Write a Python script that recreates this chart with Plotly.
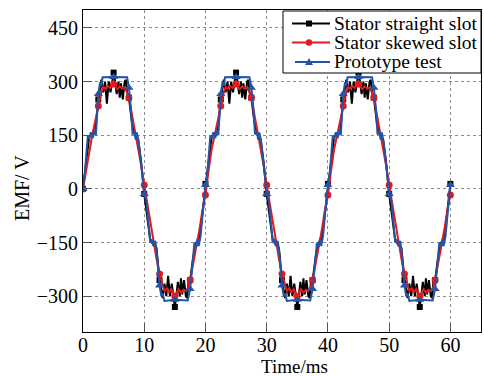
import plotly.graph_objects as go

# ---- data (one 20 ms period; the picture repeats it 3 times) ----
period_ms = 20
n_periods = 3

# Stator straight slot (black, squares)
straight_t = [0.5, 1.0, 1.5, 2.0, 2.5, 2.8, 3.0, 3.3, 3.6, 3.9, 4.2, 4.5, 4.8, 5.0,
              5.2, 5.5, 5.8, 6.0, 6.2, 6.5, 6.8, 7.0, 7.2, 7.5, 8.0, 8.5, 9.0, 9.5, 10.0,
              10.5, 11.0, 11.5, 12.0, 12.5, 12.8, 13.0, 13.3, 13.6, 13.9, 14.2, 14.5, 14.8, 15.0,
              15.2, 15.5, 15.8, 16.0, 16.2, 16.5, 16.8, 17.0, 17.2, 17.5, 18.0, 18.5, 19.0, 19.5, 20.0]
straight_v = [75, 145, 155, 160, 250, 290, 305, 270, 300, 238, 300, 270, 310, 325,
              305, 265, 300, 255, 295, 250, 300, 305, 270, 255, 185, 150, 140, 75, -14,
              -80, -145, -155, -165, -255, -290, -305, -265, -300, -243, -300, -265, -310, -330,
              -305, -260, -300, -250, -295, -255, -300, -305, -265, -255, -190, -150, -140, -70, 14]

# Stator skewed slot (red, circles)
skewed_t = [0.5, 1.0, 1.5, 2.0, 2.5, 3.0, 3.3, 3.6, 4.0, 4.4, 4.7, 5.0, 5.3, 5.6, 6.0,
            6.4, 6.8, 7.2, 7.5, 8.0, 8.5, 9.0, 9.5, 10.0,
            10.5, 11.0, 11.5, 12.0, 12.5, 13.0, 13.3, 13.7, 14.0, 14.4, 14.7, 15.0, 15.3,
            15.6, 16.0, 16.4, 16.8, 17.2, 17.5, 18.0, 18.5, 19.0, 19.5, 20.0]
skewed_v = [50, 110, 150, 190, 232, 270, 285, 280, 288, 282, 290, 293, 285, 278, 287,
            280, 283, 270, 255, 210, 165, 120, 65, 11,
            -40, -95, -150, -195, -238, -270, -285, -278, -290, -280, -292, -300, -290,
            -280, -290, -282, -285, -275, -255, -210, -160, -115, -60, -17]

# Prototype test (blue, triangles)
proto_t = [0.3, 0.6, 0.8, 1.0, 1.3, 1.6, 1.9, 2.1, 2.5, 2.8, 3.0, 3.2, 5.0, 7.2, 7.5,
           7.8, 8.1, 8.4, 8.6, 8.8, 9.1, 9.5, 10.0,
           10.35, 10.7, 11.0, 11.2, 11.5, 11.8, 12.0, 12.5, 12.8, 13.0, 13.3, 15.0, 17.1,
           17.5, 17.8, 18.2, 18.5, 18.7, 18.9, 19.2, 19.6, 20.0]
proto_v = [42, 110, 150, 140, 158, 142, 165, 150, 265, 298, 288, 312, 313, 312, 283,
           230, 152, 162, 138, 158, 130, 70, -14,
           -34, -100, -150, -140, -160, -145, -170, -270, -300, -292, -313, -310, -312,
           -280, -220, -150, -162, -140, -160, -132, -60, 11]

marker_step_ms = 2.5

x_ticks = [0, 10, 20, 30, 40, 50, 60]
y_ticks = [-300, -150, 0, 150, 300, 450]
x_title = "Time/ms"
y_title = "EMF/ V"


def full_series(t_per, v_per):
    t = [0.0]
    v = [0.0]
    for k in range(n_periods):
        t += [k * period_ms + ti for ti in t_per]
        v += list(v_per)
    return t, v


def marker_points(t, v):
    mt, mv = [], []
    for ti, vi in zip(t, v):
        r = ti / marker_step_ms
        if abs(r - round(r)) < 1e-6:
            mt.append(ti)
            mv.append(vi)
    return mt, mv


series = [
    ("Stator straight slot", straight_t, straight_v, "#000000", "square", 6),
    ("Stator skewed slot", skewed_t, skewed_v, "#e3191c", "circle", 7),
    ("Prototype test", proto_t, proto_v, "#2553a6", "triangle-up", 8),
]

FONT = "Liberation Serif"
W, H = 484, 376
ML, MR, MT, MB = 83, 3, 10, 44
PW, PH = W - ML - MR, H - MT - MB


def px_x(px):
    return (px - ML) / PW


def px_y(py):
    return (H - MB - py) / PH


fig = go.Figure()

for name, tp, vp, col, sym, ms in series:
    t, v = full_series(tp, vp)
    fig.add_trace(go.Scatter(x=t, y=v, mode="lines", line=dict(color=col, width=2),
                             showlegend=False, hoverinfo="skip"))
    mt, mv = marker_points(t, v)
    fig.add_trace(go.Scatter(x=mt, y=mv, mode="markers",
                             marker=dict(color=col, symbol=sym, size=ms),
                             showlegend=False, hoverinfo="skip"))

# ---- hand-made legend (tight row spacing like the reference) ----
shapes = [dict(type="rect", xref="paper", yref="paper", layer="above",
               x0=px_x(283), x1=px_x(481), y0=px_y(73), y1=px_y(11),
               line=dict(color="black", width=1), fillcolor="white")]
annotations = []
rows_py = [23.5, 42.5, 62]
for (name, tp, vp, col, sym, ms), py in zip(series, rows_py):
    yy = px_y(py)
    lx0 = 292 if sym != "triangle-up" else 295
    shapes.append(dict(type="line", xref="paper", yref="paper", layer="above",
                       x0=px_x(lx0), x1=px_x(330), y0=yy, y1=yy,
                       line=dict(color=col, width=1.8)))
    mx = px_x(309)
    if sym == "square":
        shapes.append(dict(type="rect", xref="paper", yref="paper", layer="above",
                           xsizemode="pixel", ysizemode="pixel", xanchor=mx, yanchor=yy,
                           x0=-3, x1=3, y0=-3, y1=3, line=dict(width=0), fillcolor=col))
    elif sym == "circle":
        shapes.append(dict(type="circle", xref="paper", yref="paper", layer="above",
                           xsizemode="pixel", ysizemode="pixel", xanchor=mx, yanchor=yy,
                           x0=-3.2, x1=3.2, y0=-3.2, y1=3.2, line=dict(width=0), fillcolor=col))
    else:
        shapes.append(dict(type="path", xref="paper", yref="paper", layer="above",
                           xsizemode="pixel", ysizemode="pixel", xanchor=mx, yanchor=yy,
                           path="M -4,-3 L 4,-3 L 0,4 Z", line=dict(width=0), fillcolor=col))
    annotations.append(dict(text=name, xref="paper", yref="paper", x=px_x(332), y=yy,
                            xanchor="left", yanchor="middle", showarrow=False,
                            font=dict(family=FONT, size=19.5, color="black")))

# axis titles (placed where the reference has them)
annotations.append(dict(text=x_title, xref="paper", yref="paper", x=px_x(294), y=px_y(366),
                        xanchor="center", yanchor="middle", showarrow=False,
                        font=dict(family=FONT, size=19, color="black")))
annotations.append(dict(text=y_title, xref="paper", yref="paper", x=px_x(22), y=px_y(188),
                        xanchor="center", yanchor="middle", showarrow=False, textangle=-90,
                        font=dict(family=FONT, size=20, color="black")))

axis_common = dict(showline=True, linecolor="black", linewidth=1, mirror=True,
                   ticks="inside", ticklen=9, tickcolor="#555", tickwidth=1,
                   showgrid=True, gridcolor="#8a8a8a", griddash="dot", gridwidth=1,
                   zeroline=False, automargin=False,
                   tickfont=dict(family=FONT, size=20, color="black"))

fig.update_layout(
    width=W, height=H,
    margin=dict(l=ML, r=MR, t=MT, b=MB),
    paper_bgcolor="white", plot_bgcolor="white",
    font=dict(family=FONT, size=19, color="black"),
    showlegend=False,
    shapes=shapes, annotations=annotations,
    xaxis=dict(range=[0, 65], tickvals=x_ticks, ticklabelstandoff=-5, **axis_common),
    yaxis=dict(range=[-400, 500], tickvals=y_ticks,
               ticktext=[("\u2212" + str(-y)) if y < 0 else str(y) for y in y_ticks],
               **axis_common),
)

fig.write_html("out.html")
